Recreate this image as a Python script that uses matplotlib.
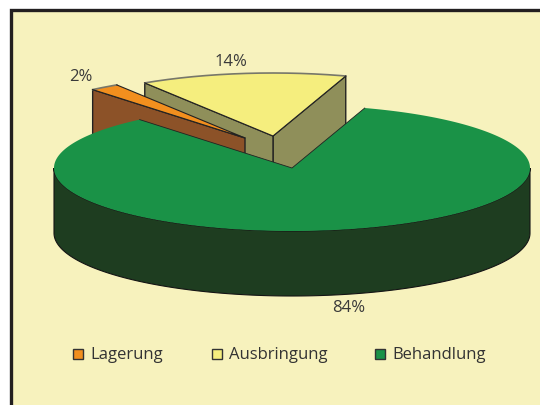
import numpy as np
import matplotlib

matplotlib.use("Agg")
import matplotlib.pyplot as plt
from matplotlib.patches import Polygon, Rectangle

# data
labels = ["Lagerung", "Ausbringung", "Behandlung"]
shares = [2, 14, 84]
pct_labels = ["2%", "14%", "84%"]

# colours
BG = "#f7f2bd"
FRAME = "#231f20"
TOPS = ["#f28f1e", "#f5ee7e", "#1a9247"]
SIDES = ["#8c5228", "#8f8f5a", "#1e3d20"]
EDGE = "#222222"
RIM = "#77776a"

# pie geometry, in picture pixels
CX, CY = 292, 169
RX, RY = 238, 63
DEPTH = 65
START = 129.8
OFFSETS = [(-47, -30), (-19, -32), (0, 0)]


def rim(a0, a1, cx, cy, n=200):
    t = np.radians(np.linspace(a0, a1, n))
    return np.column_stack([cx + RX * np.cos(t), cy - RY * np.sin(t)])


def wall(p, q):
    return [p, q, (q[0], q[1] + DEPTH), (p[0], p[1] + DEPTH)]


fig = plt.figure(figsize=(5.4, 4.06), dpi=100)
ax = fig.add_axes([0, 0, 1, 1])
ax.set_xlim(0, 540)
ax.set_ylim(406, 0)
ax.axis("off")

# background runs off the right and bottom, frame only on top and left
ax.add_patch(Rectangle((10, 10), 530, 396, fc=BG, ec="none"))
ax.plot([10.5, 10.5, 540], [406, 10.5, 10.5], color=FRAME, lw=2.4, solid_joinstyle="miter")

# clockwise slice angles from the shares
ends = START - np.cumsum(shares) * 3.6
starts = np.r_[START, ends[:-1]]

# yellow slice sits behind the orange one
for i in [1, 0]:
    cx, cy = CX + OFFSETS[i][0], CY + OFFSETS[i][1]
    arc = rim(starts[i], ends[i], cx, cy)
    c = (cx, cy)
    if i == 1:
        ax.add_patch(Polygon(wall(c, arc[-1]), fc=SIDES[i], ec=EDGE, lw=1))
    ax.add_patch(Polygon(wall(c, arc[0]), fc=SIDES[i], ec=EDGE, lw=1))
    ax.add_patch(Polygon(np.vstack([[c], arc]), fc=TOPS[i], ec="none"))
    ax.plot(arc[:, 0], arc[:, 1], color=RIM, lw=1.2)
    ax.plot([arc[0, 0], cx, arc[-1, 0]], [arc[0, 1], cy, arc[-1, 1]], color=EDGE, lw=0.8)

# big slice: front wall, then top
front = rim(180, 360, CX, CY)
side = np.vstack([front, (front + [0, DEPTH])[::-1]])
ax.add_patch(Polygon(side, fc=SIDES[2], ec="#141414", lw=0.8))
arc = rim(starts[2], ends[2], CX, CY, n=400)
ax.add_patch(Polygon(np.vstack([[(CX, CY)], arc]), fc=TOPS[2], ec="none"))
ax.plot([arc[0, 0], CX, arc[-1, 0]], [arc[0, 1], CY, arc[-1, 1]], color=EDGE, lw=0.6)

for txt, x, y in zip(pct_labels, [81, 231, 349], [77, 62, 308]):
    ax.text(x, y, txt, ha="center", va="center", fontsize=12, family="Open Sans", color="#3a3a3a")

for i, (name, bx) in enumerate(zip(labels, [73, 212, 375])):
    ax.add_patch(Rectangle((bx, 350), 10, 10, fc=TOPS[i], ec="#333333", lw=1))
    ax.text(bx + 17, 355, name, ha="left", va="center", fontsize=12, family="Open Sans", color="#333333")

fig.savefig("out.png", dpi=100)
